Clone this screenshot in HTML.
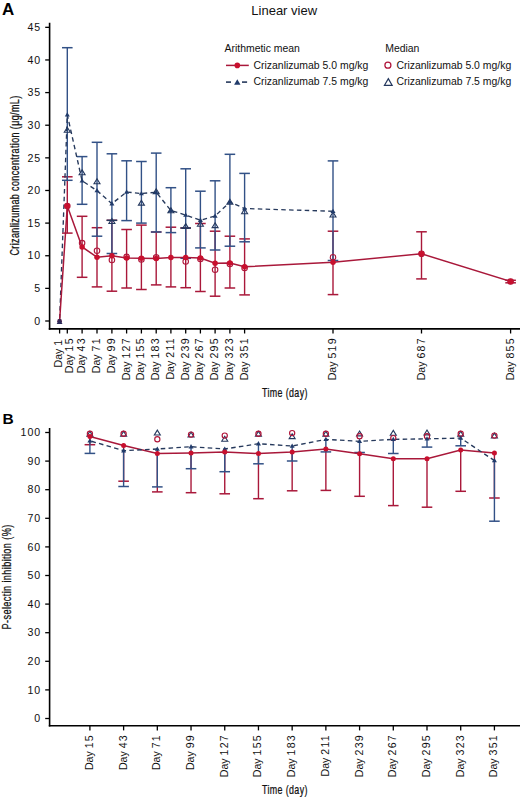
<!DOCTYPE html><html><head><meta charset="utf-8"><title>Crizanlizumab PK/PD</title><style>
html,body{margin:0;padding:0;background:#fff;width:520px;height:798px;overflow:hidden}
svg{display:block}
text{font-family:"Liberation Sans",sans-serif;fill:#111}
.tk{font-size:10.6px;letter-spacing:0.9px}
.xl{font-size:10.6px;letter-spacing:0px}
.xd{letter-spacing:1.25px}
.lg{font-size:10.45px}
.pl{font-size:16px;font-weight:bold;fill:#000}
.tt{font-size:13px}
.at{font-size:12px;stroke:#111;stroke-width:0.25px;letter-spacing:0.5px}
</style></head><body>
<svg width="520" height="798" viewBox="0 0 520 798">
<rect width="520" height="798" fill="#fff"/>
<text transform="translate(1.9,14.8) scale(1.06,1)" class="pl" style="font-size:16px">A</text>
<text x="251.3" y="15.4" class="tt">Linear view</text>
<text transform="translate(18.8,255.6) rotate(-90) scale(0.75,1)" class="at">Crizanlizumab concentration (μg/mL)</text>
<text transform="translate(262,396.5) scale(0.74,1)" class="at">Time (day)</text>
<line x1="49.6" y1="22.8" x2="49.6" y2="329.65" stroke="#000" stroke-width="1.6"/>
<line x1="48.8" y1="328.9" x2="520" y2="328.9" stroke="#000" stroke-width="1.6"/>
<line x1="45.2" y1="321" x2="49.6" y2="321" stroke="#000" stroke-width="1.3"/>
<text x="41" y="324.7" text-anchor="end" class="tk">0</text>
<line x1="45.2" y1="288.37" x2="49.6" y2="288.37" stroke="#000" stroke-width="1.3"/>
<text x="41" y="292.07" text-anchor="end" class="tk">5</text>
<line x1="45.2" y1="255.74" x2="49.6" y2="255.74" stroke="#000" stroke-width="1.3"/>
<text x="41" y="259.44" text-anchor="end" class="tk">10</text>
<line x1="45.2" y1="223.11" x2="49.6" y2="223.11" stroke="#000" stroke-width="1.3"/>
<text x="41" y="226.81" text-anchor="end" class="tk">15</text>
<line x1="45.2" y1="190.48" x2="49.6" y2="190.48" stroke="#000" stroke-width="1.3"/>
<text x="41" y="194.18" text-anchor="end" class="tk">20</text>
<line x1="45.2" y1="157.85" x2="49.6" y2="157.85" stroke="#000" stroke-width="1.3"/>
<text x="41" y="161.55" text-anchor="end" class="tk">25</text>
<line x1="45.2" y1="125.22" x2="49.6" y2="125.22" stroke="#000" stroke-width="1.3"/>
<text x="41" y="128.92" text-anchor="end" class="tk">30</text>
<line x1="45.2" y1="92.59" x2="49.6" y2="92.59" stroke="#000" stroke-width="1.3"/>
<text x="41" y="96.29" text-anchor="end" class="tk">35</text>
<line x1="45.2" y1="59.96" x2="49.6" y2="59.96" stroke="#000" stroke-width="1.3"/>
<text x="41" y="63.66" text-anchor="end" class="tk">40</text>
<line x1="45.2" y1="27.33" x2="49.6" y2="27.33" stroke="#000" stroke-width="1.3"/>
<text x="41" y="31.03" text-anchor="end" class="tk">45</text>
<line x1="59.6" y1="328.9" x2="59.6" y2="333.5" stroke="#000" stroke-width="1.3"/>
<text transform="translate(61.5,338.5) rotate(-90)" text-anchor="end" class="xl">Day <tspan class="xd">1</tspan></text>
<line x1="67.3" y1="328.9" x2="67.3" y2="333.5" stroke="#000" stroke-width="1.3"/>
<text transform="translate(72.9,337.1) rotate(-90)" text-anchor="end" class="xl">Day <tspan class="xd">15</tspan></text>
<line x1="82.1" y1="328.9" x2="82.1" y2="333.5" stroke="#000" stroke-width="1.3"/>
<text transform="translate(85.1,337.1) rotate(-90)" text-anchor="end" class="xl">Day <tspan class="xd">43</tspan></text>
<line x1="97" y1="328.9" x2="97" y2="333.5" stroke="#000" stroke-width="1.3"/>
<text transform="translate(100,337.1) rotate(-90)" text-anchor="end" class="xl">Day <tspan class="xd">71</tspan></text>
<line x1="111.9" y1="328.9" x2="111.9" y2="333.5" stroke="#000" stroke-width="1.3"/>
<text transform="translate(114.9,337.1) rotate(-90)" text-anchor="end" class="xl">Day <tspan class="xd">99</tspan></text>
<line x1="126.6" y1="328.9" x2="126.6" y2="333.5" stroke="#000" stroke-width="1.3"/>
<text transform="translate(129.6,337.1) rotate(-90)" text-anchor="end" class="xl">Day <tspan class="xd">127</tspan></text>
<line x1="141.4" y1="328.9" x2="141.4" y2="333.5" stroke="#000" stroke-width="1.3"/>
<text transform="translate(144.4,337.1) rotate(-90)" text-anchor="end" class="xl">Day <tspan class="xd">155</tspan></text>
<line x1="156.2" y1="328.9" x2="156.2" y2="333.5" stroke="#000" stroke-width="1.3"/>
<text transform="translate(159.2,337.1) rotate(-90)" text-anchor="end" class="xl">Day <tspan class="xd">183</tspan></text>
<line x1="170.9" y1="328.9" x2="170.9" y2="333.5" stroke="#000" stroke-width="1.3"/>
<text transform="translate(173.9,337.1) rotate(-90)" text-anchor="end" class="xl">Day <tspan class="xd">211</tspan></text>
<line x1="185.7" y1="328.9" x2="185.7" y2="333.5" stroke="#000" stroke-width="1.3"/>
<text transform="translate(188.7,337.1) rotate(-90)" text-anchor="end" class="xl">Day <tspan class="xd">239</tspan></text>
<line x1="200.4" y1="328.9" x2="200.4" y2="333.5" stroke="#000" stroke-width="1.3"/>
<text transform="translate(203.4,337.1) rotate(-90)" text-anchor="end" class="xl">Day <tspan class="xd">267</tspan></text>
<line x1="215.1" y1="328.9" x2="215.1" y2="333.5" stroke="#000" stroke-width="1.3"/>
<text transform="translate(218.1,337.1) rotate(-90)" text-anchor="end" class="xl">Day <tspan class="xd">295</tspan></text>
<line x1="229.9" y1="328.9" x2="229.9" y2="333.5" stroke="#000" stroke-width="1.3"/>
<text transform="translate(232.9,337.1) rotate(-90)" text-anchor="end" class="xl">Day <tspan class="xd">323</tspan></text>
<line x1="244.6" y1="328.9" x2="244.6" y2="333.5" stroke="#000" stroke-width="1.3"/>
<text transform="translate(247.6,337.1) rotate(-90)" text-anchor="end" class="xl">Day <tspan class="xd">351</tspan></text>
<line x1="333" y1="328.9" x2="333" y2="333.5" stroke="#000" stroke-width="1.3"/>
<text transform="translate(336,337.1) rotate(-90)" text-anchor="end" class="xl">Day <tspan class="xd">519</tspan></text>
<line x1="421.5" y1="328.9" x2="421.5" y2="333.5" stroke="#000" stroke-width="1.3"/>
<text transform="translate(424.5,337.1) rotate(-90)" text-anchor="end" class="xl">Day <tspan class="xd">687</tspan></text>
<line x1="510.6" y1="328.9" x2="510.6" y2="333.5" stroke="#000" stroke-width="1.3"/>
<text transform="translate(513.6,337.1) rotate(-90)" text-anchor="end" class="xl">Day <tspan class="xd">855</tspan></text>
<text x="224.5" y="52.2" class="lg">Arithmetic mean</text>
<text x="385.2" y="52.2" class="lg">Median</text>
<line x1="226" y1="65.4" x2="248.8" y2="65.4" stroke="#a9183a" stroke-width="1.5"/>
<circle cx="237.3" cy="65.4" r="2.8" fill="#c8102e"/>
<text x="253.5" y="68.8" class="lg">Crizanlizumab 5.0 mg/kg</text>
<line x1="226" y1="82.1" x2="231" y2="82.1" stroke="#26395c" stroke-width="1.6"/>
<line x1="242" y1="82.1" x2="247.1" y2="82.1" stroke="#26395c" stroke-width="1.6"/>
<path d="M237.3 79.36 L240.5 84.76 L234.1 84.76Z" fill="#213b6b"/>
<text x="253.5" y="85.4" class="lg">Crizanlizumab 7.5 mg/kg</text>
<circle cx="387.9" cy="65.2" r="3.0" fill="none" stroke="#b0153a" stroke-width="1.25"/>
<text x="396.4" y="68.6" class="lg">Crizanlizumab 5.0 mg/kg</text>
<path d="M388.3 78.67 L392.1 85.27 L384.5 85.27Z" fill="none" stroke="#24385e" stroke-width="1.25"/>
<text x="396.4" y="85.4" class="lg">Crizanlizumab 7.5 mg/kg</text>
<line x1="67.3" y1="176.8" x2="67.3" y2="233.1" stroke="#a9183a" stroke-width="1.4"/>
<line x1="62" y1="176.8" x2="72.6" y2="176.8" stroke="#a9183a" stroke-width="1.5"/>
<line x1="62" y1="233.1" x2="72.6" y2="233.1" stroke="#a9183a" stroke-width="1.5"/>
<line x1="82.1" y1="216.3" x2="82.1" y2="277.3" stroke="#a9183a" stroke-width="1.4"/>
<line x1="76.8" y1="216.3" x2="87.4" y2="216.3" stroke="#a9183a" stroke-width="1.5"/>
<line x1="76.8" y1="277.3" x2="87.4" y2="277.3" stroke="#a9183a" stroke-width="1.5"/>
<line x1="97" y1="227.7" x2="97" y2="286.9" stroke="#a9183a" stroke-width="1.4"/>
<line x1="91.7" y1="227.7" x2="102.3" y2="227.7" stroke="#a9183a" stroke-width="1.5"/>
<line x1="91.7" y1="286.9" x2="102.3" y2="286.9" stroke="#a9183a" stroke-width="1.5"/>
<line x1="111.9" y1="220.3" x2="111.9" y2="291.2" stroke="#a9183a" stroke-width="1.4"/>
<line x1="106.6" y1="220.3" x2="117.2" y2="220.3" stroke="#a9183a" stroke-width="1.5"/>
<line x1="106.6" y1="291.2" x2="117.2" y2="291.2" stroke="#a9183a" stroke-width="1.5"/>
<line x1="126.6" y1="229.5" x2="126.6" y2="288" stroke="#a9183a" stroke-width="1.4"/>
<line x1="121.3" y1="229.5" x2="131.9" y2="229.5" stroke="#a9183a" stroke-width="1.5"/>
<line x1="121.3" y1="288" x2="131.9" y2="288" stroke="#a9183a" stroke-width="1.5"/>
<line x1="141.4" y1="225.1" x2="141.4" y2="289.5" stroke="#a9183a" stroke-width="1.4"/>
<line x1="136.1" y1="225.1" x2="146.7" y2="225.1" stroke="#a9183a" stroke-width="1.5"/>
<line x1="136.1" y1="289.5" x2="146.7" y2="289.5" stroke="#a9183a" stroke-width="1.5"/>
<line x1="156.2" y1="232" x2="156.2" y2="284.9" stroke="#a9183a" stroke-width="1.4"/>
<line x1="150.9" y1="232" x2="161.5" y2="232" stroke="#a9183a" stroke-width="1.5"/>
<line x1="150.9" y1="284.9" x2="161.5" y2="284.9" stroke="#a9183a" stroke-width="1.5"/>
<line x1="170.9" y1="227.2" x2="170.9" y2="286.9" stroke="#a9183a" stroke-width="1.4"/>
<line x1="165.6" y1="227.2" x2="176.2" y2="227.2" stroke="#a9183a" stroke-width="1.5"/>
<line x1="165.6" y1="286.9" x2="176.2" y2="286.9" stroke="#a9183a" stroke-width="1.5"/>
<line x1="185.7" y1="228" x2="185.7" y2="287.7" stroke="#a9183a" stroke-width="1.4"/>
<line x1="180.4" y1="228" x2="191" y2="228" stroke="#a9183a" stroke-width="1.5"/>
<line x1="180.4" y1="287.7" x2="191" y2="287.7" stroke="#a9183a" stroke-width="1.5"/>
<line x1="200.4" y1="223.5" x2="200.4" y2="291.5" stroke="#a9183a" stroke-width="1.4"/>
<line x1="195.1" y1="223.5" x2="205.7" y2="223.5" stroke="#a9183a" stroke-width="1.5"/>
<line x1="195.1" y1="291.5" x2="205.7" y2="291.5" stroke="#a9183a" stroke-width="1.5"/>
<line x1="215.1" y1="231.2" x2="215.1" y2="296.2" stroke="#a9183a" stroke-width="1.4"/>
<line x1="209.8" y1="231.2" x2="220.4" y2="231.2" stroke="#a9183a" stroke-width="1.5"/>
<line x1="209.8" y1="296.2" x2="220.4" y2="296.2" stroke="#a9183a" stroke-width="1.5"/>
<line x1="229.9" y1="236.2" x2="229.9" y2="288" stroke="#a9183a" stroke-width="1.4"/>
<line x1="224.6" y1="236.2" x2="235.2" y2="236.2" stroke="#a9183a" stroke-width="1.5"/>
<line x1="224.6" y1="288" x2="235.2" y2="288" stroke="#a9183a" stroke-width="1.5"/>
<line x1="244.6" y1="238.9" x2="244.6" y2="294.9" stroke="#a9183a" stroke-width="1.4"/>
<line x1="239.3" y1="238.9" x2="249.9" y2="238.9" stroke="#a9183a" stroke-width="1.5"/>
<line x1="239.3" y1="294.9" x2="249.9" y2="294.9" stroke="#a9183a" stroke-width="1.5"/>
<line x1="333" y1="231.2" x2="333" y2="294.6" stroke="#a9183a" stroke-width="1.4"/>
<line x1="327.7" y1="231.2" x2="338.3" y2="231.2" stroke="#a9183a" stroke-width="1.5"/>
<line x1="327.7" y1="294.6" x2="338.3" y2="294.6" stroke="#a9183a" stroke-width="1.5"/>
<line x1="421.5" y1="231.8" x2="421.5" y2="278.9" stroke="#a9183a" stroke-width="1.4"/>
<line x1="416.2" y1="231.8" x2="426.8" y2="231.8" stroke="#a9183a" stroke-width="1.5"/>
<line x1="416.2" y1="278.9" x2="426.8" y2="278.9" stroke="#a9183a" stroke-width="1.5"/>
<line x1="510.6" y1="280.3" x2="510.6" y2="282.8" stroke="#a9183a" stroke-width="1.4"/>
<line x1="505.3" y1="280.3" x2="515.9" y2="280.3" stroke="#a9183a" stroke-width="1.5"/>
<line x1="505.3" y1="282.8" x2="515.9" y2="282.8" stroke="#a9183a" stroke-width="1.5"/>
<line x1="67.3" y1="47.7" x2="67.3" y2="180.3" stroke="#325186" stroke-width="1.4"/>
<line x1="62" y1="47.7" x2="72.6" y2="47.7" stroke="#325186" stroke-width="1.5"/>
<line x1="62" y1="180.3" x2="72.6" y2="180.3" stroke="#325186" stroke-width="1.5"/>
<line x1="82.1" y1="156.6" x2="82.1" y2="204.3" stroke="#325186" stroke-width="1.4"/>
<line x1="76.8" y1="156.6" x2="87.4" y2="156.6" stroke="#325186" stroke-width="1.5"/>
<line x1="76.8" y1="204.3" x2="87.4" y2="204.3" stroke="#325186" stroke-width="1.5"/>
<line x1="97" y1="142.3" x2="97" y2="236.2" stroke="#325186" stroke-width="1.4"/>
<line x1="91.7" y1="142.3" x2="102.3" y2="142.3" stroke="#325186" stroke-width="1.5"/>
<line x1="91.7" y1="236.2" x2="102.3" y2="236.2" stroke="#325186" stroke-width="1.5"/>
<line x1="111.9" y1="153.8" x2="111.9" y2="253.5" stroke="#325186" stroke-width="1.4"/>
<line x1="106.6" y1="153.8" x2="117.2" y2="153.8" stroke="#325186" stroke-width="1.5"/>
<line x1="106.6" y1="253.5" x2="117.2" y2="253.5" stroke="#325186" stroke-width="1.5"/>
<line x1="126.6" y1="160.8" x2="126.6" y2="220.6" stroke="#325186" stroke-width="1.4"/>
<line x1="121.3" y1="160.8" x2="131.9" y2="160.8" stroke="#325186" stroke-width="1.5"/>
<line x1="121.3" y1="220.6" x2="131.9" y2="220.6" stroke="#325186" stroke-width="1.5"/>
<line x1="141.4" y1="161.5" x2="141.4" y2="223.1" stroke="#325186" stroke-width="1.4"/>
<line x1="136.1" y1="161.5" x2="146.7" y2="161.5" stroke="#325186" stroke-width="1.5"/>
<line x1="136.1" y1="223.1" x2="146.7" y2="223.1" stroke="#325186" stroke-width="1.5"/>
<line x1="156.2" y1="153.1" x2="156.2" y2="232" stroke="#325186" stroke-width="1.4"/>
<line x1="150.9" y1="153.1" x2="161.5" y2="153.1" stroke="#325186" stroke-width="1.5"/>
<line x1="150.9" y1="232" x2="161.5" y2="232" stroke="#325186" stroke-width="1.5"/>
<line x1="170.9" y1="187.7" x2="170.9" y2="232.6" stroke="#325186" stroke-width="1.4"/>
<line x1="165.6" y1="187.7" x2="176.2" y2="187.7" stroke="#325186" stroke-width="1.5"/>
<line x1="165.6" y1="232.6" x2="176.2" y2="232.6" stroke="#325186" stroke-width="1.5"/>
<line x1="185.7" y1="168.8" x2="185.7" y2="258.3" stroke="#325186" stroke-width="1.4"/>
<line x1="180.4" y1="168.8" x2="191" y2="168.8" stroke="#325186" stroke-width="1.5"/>
<line x1="180.4" y1="258.3" x2="191" y2="258.3" stroke="#325186" stroke-width="1.5"/>
<line x1="200.4" y1="191.2" x2="200.4" y2="247.9" stroke="#325186" stroke-width="1.4"/>
<line x1="195.1" y1="191.2" x2="205.7" y2="191.2" stroke="#325186" stroke-width="1.5"/>
<line x1="195.1" y1="247.9" x2="205.7" y2="247.9" stroke="#325186" stroke-width="1.5"/>
<line x1="215.1" y1="180.8" x2="215.1" y2="250" stroke="#325186" stroke-width="1.4"/>
<line x1="209.8" y1="180.8" x2="220.4" y2="180.8" stroke="#325186" stroke-width="1.5"/>
<line x1="209.8" y1="250" x2="220.4" y2="250" stroke="#325186" stroke-width="1.5"/>
<line x1="229.9" y1="154.3" x2="229.9" y2="246.2" stroke="#325186" stroke-width="1.4"/>
<line x1="224.6" y1="154.3" x2="235.2" y2="154.3" stroke="#325186" stroke-width="1.5"/>
<line x1="224.6" y1="246.2" x2="235.2" y2="246.2" stroke="#325186" stroke-width="1.5"/>
<line x1="244.6" y1="173.4" x2="244.6" y2="241.8" stroke="#325186" stroke-width="1.4"/>
<line x1="239.3" y1="173.4" x2="249.9" y2="173.4" stroke="#325186" stroke-width="1.5"/>
<line x1="239.3" y1="241.8" x2="249.9" y2="241.8" stroke="#325186" stroke-width="1.5"/>
<line x1="333" y1="160.9" x2="333" y2="260.5" stroke="#325186" stroke-width="1.4"/>
<line x1="327.7" y1="160.9" x2="338.3" y2="160.9" stroke="#325186" stroke-width="1.5"/>
<line x1="327.7" y1="260.5" x2="338.3" y2="260.5" stroke="#325186" stroke-width="1.5"/>
<line x1="106.6" y1="220.3" x2="117.2" y2="220.3" stroke="#24385e" stroke-width="1.5"/>
<line x1="180.4" y1="228" x2="191" y2="228" stroke="#24385e" stroke-width="1.5"/>
<polyline points="59.6,321 67.3,114.8 82.1,180.8 97,190.6 111.9,203.7 126.6,192 141.4,193.5 156.2,192.3 170.9,210.5 185.7,215.1 200.4,220.2 215.1,216 229.9,202 244.6,208.5 333,211.3" fill="none" stroke="#26395c" stroke-width="1.35" stroke-dasharray="4.5,3.32" stroke-dashoffset="-2.55"/>
<polyline points="59.6,321 67.3,206 82.1,246.9 97,257.2 111.9,255.8 126.6,258 141.4,258.3 156.2,258.4 170.9,257.4 185.7,257.6 200.4,258 215.1,263.3 229.9,263 244.6,266.8 333,262.3 421.5,253.8 510.6,281.5" fill="none" stroke="#a9183a" stroke-width="1.5"/>
<path d="M67.3 127.31 L70.3 132.21 L64.3 132.21Z" fill="none" stroke="#24385e" stroke-width="1.1"/>
<path d="M82.1 169.91 L85.1 174.81 L79.1 174.81Z" fill="none" stroke="#24385e" stroke-width="1.1"/>
<path d="M97 178.81 L100 183.71 L94 183.71Z" fill="none" stroke="#24385e" stroke-width="1.1"/>
<path d="M111.9 218.61 L114.9 223.51 L108.9 223.51Z" fill="none" stroke="#24385e" stroke-width="1.1"/>
<path d="M141.4 200.21 L144.4 205.11 L138.4 205.11Z" fill="none" stroke="#24385e" stroke-width="1.1"/>
<path d="M156.2 188.81 L159.2 193.71 L153.2 193.71Z" fill="none" stroke="#24385e" stroke-width="1.1"/>
<path d="M170.9 207.81 L173.9 212.71 L167.9 212.71Z" fill="none" stroke="#24385e" stroke-width="1.1"/>
<path d="M185.7 223.61 L188.7 228.51 L182.7 228.51Z" fill="none" stroke="#24385e" stroke-width="1.1"/>
<path d="M200.4 221.31 L203.4 226.21 L197.4 226.21Z" fill="none" stroke="#24385e" stroke-width="1.1"/>
<path d="M215.1 222.71 L218.1 227.61 L212.1 227.61Z" fill="none" stroke="#24385e" stroke-width="1.1"/>
<path d="M229.9 199.31 L232.9 204.21 L226.9 204.21Z" fill="none" stroke="#24385e" stroke-width="1.1"/>
<path d="M244.6 208.81 L247.6 213.71 L241.6 213.71Z" fill="none" stroke="#24385e" stroke-width="1.1"/>
<path d="M333 212.11 L336 217.01 L330 217.01Z" fill="none" stroke="#24385e" stroke-width="1.1"/>
<circle cx="67.3" cy="206" r="2.75" fill="none" stroke="#b0153a" stroke-width="1.1"/>
<circle cx="82.1" cy="243.1" r="2.75" fill="none" stroke="#b0153a" stroke-width="1.1"/>
<circle cx="97" cy="250.8" r="2.75" fill="none" stroke="#b0153a" stroke-width="1.1"/>
<circle cx="111.9" cy="260" r="2.75" fill="none" stroke="#b0153a" stroke-width="1.1"/>
<circle cx="126.6" cy="256.9" r="2.75" fill="none" stroke="#b0153a" stroke-width="1.1"/>
<circle cx="141.4" cy="259.4" r="2.75" fill="none" stroke="#b0153a" stroke-width="1.1"/>
<circle cx="156.2" cy="257.4" r="2.75" fill="none" stroke="#b0153a" stroke-width="1.1"/>
<circle cx="185.7" cy="261.5" r="2.75" fill="none" stroke="#b0153a" stroke-width="1.1"/>
<circle cx="200.4" cy="259" r="2.75" fill="none" stroke="#b0153a" stroke-width="1.1"/>
<circle cx="215.1" cy="269.8" r="2.75" fill="none" stroke="#b0153a" stroke-width="1.1"/>
<circle cx="229.9" cy="264" r="2.75" fill="none" stroke="#b0153a" stroke-width="1.1"/>
<circle cx="244.6" cy="267.9" r="2.75" fill="none" stroke="#b0153a" stroke-width="1.1"/>
<circle cx="333" cy="257.2" r="2.75" fill="none" stroke="#b0153a" stroke-width="1.1"/>
<circle cx="421.5" cy="253.8" r="2.75" fill="none" stroke="#b0153a" stroke-width="1.1"/>
<circle cx="510.6" cy="281.5" r="2.75" fill="none" stroke="#b0153a" stroke-width="1.1"/>
<path d="M67.3 112.22 L69.8 116.52 L64.8 116.52Z" fill="#213b6b"/>
<path d="M82.1 178.22 L84.6 182.52 L79.6 182.52Z" fill="#213b6b"/>
<path d="M97 188.02 L99.5 192.32 L94.5 192.32Z" fill="#213b6b"/>
<path d="M111.9 201.12 L114.4 205.42 L109.4 205.42Z" fill="#213b6b"/>
<path d="M126.6 189.42 L129.1 193.72 L124.1 193.72Z" fill="#213b6b"/>
<path d="M141.4 190.92 L143.9 195.22 L138.9 195.22Z" fill="#213b6b"/>
<path d="M156.2 189.72 L158.7 194.02 L153.7 194.02Z" fill="#213b6b"/>
<path d="M170.9 207.92 L173.4 212.22 L168.4 212.22Z" fill="#213b6b"/>
<path d="M185.7 212.52 L188.2 216.82 L183.2 216.82Z" fill="#213b6b"/>
<path d="M200.4 217.62 L202.9 221.92 L197.9 221.92Z" fill="#213b6b"/>
<path d="M215.1 213.42 L217.6 217.72 L212.6 217.72Z" fill="#213b6b"/>
<path d="M229.9 199.42 L232.4 203.72 L227.4 203.72Z" fill="#213b6b"/>
<path d="M244.6 205.92 L247.1 210.22 L242.1 210.22Z" fill="#213b6b"/>
<path d="M333 208.72 L335.5 213.02 L330.5 213.02Z" fill="#213b6b"/>
<circle cx="67.3" cy="206" r="2.75" fill="#c8102e"/>
<circle cx="82.1" cy="246.9" r="2.75" fill="#c8102e"/>
<circle cx="97" cy="257.2" r="2.75" fill="#c8102e"/>
<circle cx="111.9" cy="255.8" r="2.75" fill="#c8102e"/>
<circle cx="126.6" cy="258" r="2.75" fill="#c8102e"/>
<circle cx="141.4" cy="258.3" r="2.75" fill="#c8102e"/>
<circle cx="156.2" cy="258.4" r="2.75" fill="#c8102e"/>
<circle cx="170.9" cy="257.4" r="2.75" fill="#c8102e"/>
<circle cx="185.7" cy="257.6" r="2.75" fill="#c8102e"/>
<circle cx="200.4" cy="258" r="2.75" fill="#c8102e"/>
<circle cx="215.1" cy="263.3" r="2.75" fill="#c8102e"/>
<circle cx="229.9" cy="263" r="2.75" fill="#c8102e"/>
<circle cx="244.6" cy="266.8" r="2.75" fill="#c8102e"/>
<circle cx="333" cy="262.3" r="2.75" fill="#c8102e"/>
<circle cx="421.5" cy="253.8" r="2.75" fill="#c8102e"/>
<circle cx="510.6" cy="281.5" r="2.75" fill="#c8102e"/>
<circle cx="59.6" cy="321.2" r="2.4" fill="#4a2550"/>
<path d="M59.6 319 L62.5 324 L56.7 324Z" fill="#2c2c5a"/>
<text transform="translate(2.5,424.3) scale(1.02,1)" class="pl" style="font-size:15.2px">B</text>
<text transform="translate(11.3,629.4) rotate(-90) scale(0.762,1)" class="at">P-selectin inhibition (%)</text>
<text transform="translate(262,793.8) scale(0.74,1)" class="at">Time (day)</text>
<line x1="49.6" y1="428.1" x2="49.6" y2="726.55" stroke="#000" stroke-width="1.6"/>
<line x1="48.8" y1="725.8" x2="520" y2="725.8" stroke="#000" stroke-width="1.6"/>
<line x1="45.2" y1="718.5" x2="49.6" y2="718.5" stroke="#000" stroke-width="1.3"/>
<text x="41" y="722.2" text-anchor="end" class="tk">0</text>
<line x1="45.2" y1="689.9" x2="49.6" y2="689.9" stroke="#000" stroke-width="1.3"/>
<text x="41" y="693.6" text-anchor="end" class="tk">10</text>
<line x1="45.2" y1="661.3" x2="49.6" y2="661.3" stroke="#000" stroke-width="1.3"/>
<text x="41" y="665" text-anchor="end" class="tk">20</text>
<line x1="45.2" y1="632.7" x2="49.6" y2="632.7" stroke="#000" stroke-width="1.3"/>
<text x="41" y="636.4" text-anchor="end" class="tk">30</text>
<line x1="45.2" y1="604.1" x2="49.6" y2="604.1" stroke="#000" stroke-width="1.3"/>
<text x="41" y="607.8" text-anchor="end" class="tk">40</text>
<line x1="45.2" y1="575.5" x2="49.6" y2="575.5" stroke="#000" stroke-width="1.3"/>
<text x="41" y="579.2" text-anchor="end" class="tk">50</text>
<line x1="45.2" y1="546.9" x2="49.6" y2="546.9" stroke="#000" stroke-width="1.3"/>
<text x="41" y="550.6" text-anchor="end" class="tk">60</text>
<line x1="45.2" y1="518.3" x2="49.6" y2="518.3" stroke="#000" stroke-width="1.3"/>
<text x="41" y="522" text-anchor="end" class="tk">70</text>
<line x1="45.2" y1="489.7" x2="49.6" y2="489.7" stroke="#000" stroke-width="1.3"/>
<text x="41" y="493.4" text-anchor="end" class="tk">80</text>
<line x1="45.2" y1="461.1" x2="49.6" y2="461.1" stroke="#000" stroke-width="1.3"/>
<text x="41" y="464.8" text-anchor="end" class="tk">90</text>
<line x1="45.2" y1="432.5" x2="49.6" y2="432.5" stroke="#000" stroke-width="1.3"/>
<text x="41" y="436.2" text-anchor="end" class="tk">100</text>
<line x1="89.9" y1="725.8" x2="89.9" y2="730.4" stroke="#000" stroke-width="1.3"/>
<text transform="translate(92.9,734) rotate(-90)" text-anchor="end" class="xl">Day <tspan class="xd">15</tspan></text>
<line x1="123.61" y1="725.8" x2="123.61" y2="730.4" stroke="#000" stroke-width="1.3"/>
<text transform="translate(126.61,734) rotate(-90)" text-anchor="end" class="xl">Day <tspan class="xd">43</tspan></text>
<line x1="157.32" y1="725.8" x2="157.32" y2="730.4" stroke="#000" stroke-width="1.3"/>
<text transform="translate(160.32,734) rotate(-90)" text-anchor="end" class="xl">Day <tspan class="xd">71</tspan></text>
<line x1="191.03" y1="725.8" x2="191.03" y2="730.4" stroke="#000" stroke-width="1.3"/>
<text transform="translate(194.03,734) rotate(-90)" text-anchor="end" class="xl">Day <tspan class="xd">99</tspan></text>
<line x1="224.74" y1="725.8" x2="224.74" y2="730.4" stroke="#000" stroke-width="1.3"/>
<text transform="translate(227.74,734) rotate(-90)" text-anchor="end" class="xl">Day <tspan class="xd">127</tspan></text>
<line x1="258.45" y1="725.8" x2="258.45" y2="730.4" stroke="#000" stroke-width="1.3"/>
<text transform="translate(261.45,734) rotate(-90)" text-anchor="end" class="xl">Day <tspan class="xd">155</tspan></text>
<line x1="292.16" y1="725.8" x2="292.16" y2="730.4" stroke="#000" stroke-width="1.3"/>
<text transform="translate(295.16,734) rotate(-90)" text-anchor="end" class="xl">Day <tspan class="xd">183</tspan></text>
<line x1="325.87" y1="725.8" x2="325.87" y2="730.4" stroke="#000" stroke-width="1.3"/>
<text transform="translate(328.87,734) rotate(-90)" text-anchor="end" class="xl">Day <tspan class="xd">211</tspan></text>
<line x1="359.58" y1="725.8" x2="359.58" y2="730.4" stroke="#000" stroke-width="1.3"/>
<text transform="translate(362.58,734) rotate(-90)" text-anchor="end" class="xl">Day <tspan class="xd">239</tspan></text>
<line x1="393.29" y1="725.8" x2="393.29" y2="730.4" stroke="#000" stroke-width="1.3"/>
<text transform="translate(396.29,734) rotate(-90)" text-anchor="end" class="xl">Day <tspan class="xd">267</tspan></text>
<line x1="427" y1="725.8" x2="427" y2="730.4" stroke="#000" stroke-width="1.3"/>
<text transform="translate(430,734) rotate(-90)" text-anchor="end" class="xl">Day <tspan class="xd">295</tspan></text>
<line x1="460.71" y1="725.8" x2="460.71" y2="730.4" stroke="#000" stroke-width="1.3"/>
<text transform="translate(463.71,734) rotate(-90)" text-anchor="end" class="xl">Day <tspan class="xd">323</tspan></text>
<line x1="494.42" y1="725.8" x2="494.42" y2="730.4" stroke="#000" stroke-width="1.3"/>
<text transform="translate(497.42,734) rotate(-90)" text-anchor="end" class="xl">Day <tspan class="xd">351</tspan></text>
<line x1="89.9" y1="436.6" x2="89.9" y2="444.7" stroke="#a9183a" stroke-width="1.4"/>
<line x1="84.6" y1="444.7" x2="95.2" y2="444.7" stroke="#a9183a" stroke-width="1.5"/>
<line x1="123.61" y1="445.5" x2="123.61" y2="481.2" stroke="#a9183a" stroke-width="1.4"/>
<line x1="118.31" y1="481.2" x2="128.91" y2="481.2" stroke="#a9183a" stroke-width="1.5"/>
<line x1="157.32" y1="453.5" x2="157.32" y2="491.9" stroke="#a9183a" stroke-width="1.4"/>
<line x1="152.02" y1="491.9" x2="162.62" y2="491.9" stroke="#a9183a" stroke-width="1.5"/>
<line x1="191.03" y1="452.9" x2="191.03" y2="492.7" stroke="#a9183a" stroke-width="1.4"/>
<line x1="185.73" y1="492.7" x2="196.33" y2="492.7" stroke="#a9183a" stroke-width="1.5"/>
<line x1="224.74" y1="451.9" x2="224.74" y2="493.8" stroke="#a9183a" stroke-width="1.4"/>
<line x1="219.44" y1="493.8" x2="230.04" y2="493.8" stroke="#a9183a" stroke-width="1.5"/>
<line x1="258.45" y1="453.5" x2="258.45" y2="498.7" stroke="#a9183a" stroke-width="1.4"/>
<line x1="253.15" y1="498.7" x2="263.75" y2="498.7" stroke="#a9183a" stroke-width="1.5"/>
<line x1="292.16" y1="451.9" x2="292.16" y2="490.8" stroke="#a9183a" stroke-width="1.4"/>
<line x1="286.86" y1="490.8" x2="297.46" y2="490.8" stroke="#a9183a" stroke-width="1.5"/>
<line x1="325.87" y1="449" x2="325.87" y2="490.4" stroke="#a9183a" stroke-width="1.4"/>
<line x1="320.57" y1="490.4" x2="331.17" y2="490.4" stroke="#a9183a" stroke-width="1.5"/>
<line x1="359.58" y1="453.8" x2="359.58" y2="496.3" stroke="#a9183a" stroke-width="1.4"/>
<line x1="354.28" y1="496.3" x2="364.88" y2="496.3" stroke="#a9183a" stroke-width="1.5"/>
<line x1="393.29" y1="458.7" x2="393.29" y2="505.6" stroke="#a9183a" stroke-width="1.4"/>
<line x1="387.99" y1="505.6" x2="398.59" y2="505.6" stroke="#a9183a" stroke-width="1.5"/>
<line x1="427" y1="458.7" x2="427" y2="507.2" stroke="#a9183a" stroke-width="1.4"/>
<line x1="421.7" y1="507.2" x2="432.3" y2="507.2" stroke="#a9183a" stroke-width="1.5"/>
<line x1="460.71" y1="450" x2="460.71" y2="491.3" stroke="#a9183a" stroke-width="1.4"/>
<line x1="455.41" y1="491.3" x2="466.01" y2="491.3" stroke="#a9183a" stroke-width="1.5"/>
<line x1="494.42" y1="452.9" x2="494.42" y2="498" stroke="#a9183a" stroke-width="1.4"/>
<line x1="489.12" y1="498" x2="499.72" y2="498" stroke="#a9183a" stroke-width="1.5"/>
<line x1="89.9" y1="440.8" x2="89.9" y2="453.4" stroke="#325186" stroke-width="1.4"/>
<line x1="84.6" y1="453.4" x2="95.2" y2="453.4" stroke="#325186" stroke-width="1.5"/>
<line x1="123.61" y1="450.7" x2="123.61" y2="486.5" stroke="#325186" stroke-width="1.4"/>
<line x1="118.31" y1="486.5" x2="128.91" y2="486.5" stroke="#325186" stroke-width="1.5"/>
<line x1="157.32" y1="449" x2="157.32" y2="486.9" stroke="#325186" stroke-width="1.4"/>
<line x1="152.02" y1="486.9" x2="162.62" y2="486.9" stroke="#325186" stroke-width="1.5"/>
<line x1="191.03" y1="446.7" x2="191.03" y2="468.7" stroke="#325186" stroke-width="1.4"/>
<line x1="185.73" y1="468.7" x2="196.33" y2="468.7" stroke="#325186" stroke-width="1.5"/>
<line x1="224.74" y1="449" x2="224.74" y2="471.7" stroke="#325186" stroke-width="1.4"/>
<line x1="219.44" y1="471.7" x2="230.04" y2="471.7" stroke="#325186" stroke-width="1.5"/>
<line x1="258.45" y1="443.7" x2="258.45" y2="463.8" stroke="#325186" stroke-width="1.4"/>
<line x1="253.15" y1="463.8" x2="263.75" y2="463.8" stroke="#325186" stroke-width="1.5"/>
<line x1="292.16" y1="446" x2="292.16" y2="461" stroke="#325186" stroke-width="1.4"/>
<line x1="286.86" y1="461" x2="297.46" y2="461" stroke="#325186" stroke-width="1.5"/>
<line x1="325.87" y1="439.4" x2="325.87" y2="451.9" stroke="#325186" stroke-width="1.4"/>
<line x1="320.57" y1="451.9" x2="331.17" y2="451.9" stroke="#325186" stroke-width="1.5"/>
<line x1="359.58" y1="441.3" x2="359.58" y2="452.5" stroke="#325186" stroke-width="1.4"/>
<line x1="354.28" y1="452.5" x2="364.88" y2="452.5" stroke="#325186" stroke-width="1.5"/>
<line x1="393.29" y1="439.4" x2="393.29" y2="453.5" stroke="#325186" stroke-width="1.4"/>
<line x1="387.99" y1="453.5" x2="398.59" y2="453.5" stroke="#325186" stroke-width="1.5"/>
<line x1="427" y1="438.8" x2="427" y2="447.1" stroke="#325186" stroke-width="1.4"/>
<line x1="421.7" y1="447.1" x2="432.3" y2="447.1" stroke="#325186" stroke-width="1.5"/>
<line x1="460.71" y1="438.1" x2="460.71" y2="445.8" stroke="#325186" stroke-width="1.4"/>
<line x1="455.41" y1="445.8" x2="466.01" y2="445.8" stroke="#325186" stroke-width="1.5"/>
<line x1="494.42" y1="460.6" x2="494.42" y2="521.2" stroke="#325186" stroke-width="1.4"/>
<line x1="489.12" y1="521.2" x2="499.72" y2="521.2" stroke="#325186" stroke-width="1.5"/>
<polyline points="89.9,436.6 123.61,445.5 157.32,453.5 191.03,452.9 224.74,451.9 258.45,453.5 292.16,451.9 325.87,449 359.58,453.8 393.29,458.7 427,458.7 460.71,450 494.42,452.9" fill="none" stroke="#a9183a" stroke-width="1.5"/>
<polyline points="89.9,440.8 123.61,450.7 157.32,449 191.03,446.7 224.74,449 258.45,443.7 292.16,446 325.87,439.4 359.58,441.3 393.29,439.4 427,438.8 460.71,438.1 494.42,460.6" fill="none" stroke="#26395c" stroke-width="1.35" stroke-dasharray="4.55,3.3" stroke-dashoffset="-1.65"/>
<path d="M89.9 431.2 L92.9 436.1 L86.9 436.1Z" fill="none" stroke="#24385e" stroke-width="1.1"/>
<path d="M123.61 431.2 L126.61 436.1 L120.61 436.1Z" fill="none" stroke="#24385e" stroke-width="1.1"/>
<path d="M157.32 430.11 L160.32 435 L154.32 435Z" fill="none" stroke="#24385e" stroke-width="1.1"/>
<path d="M191.03 432.11 L194.03 437 L188.03 437Z" fill="none" stroke="#24385e" stroke-width="1.1"/>
<path d="M224.74 436.31 L227.74 441.2 L221.74 441.2Z" fill="none" stroke="#24385e" stroke-width="1.1"/>
<path d="M258.45 431.2 L261.45 436.1 L255.45 436.1Z" fill="none" stroke="#24385e" stroke-width="1.1"/>
<path d="M292.16 433.7 L295.16 438.6 L289.16 438.6Z" fill="none" stroke="#24385e" stroke-width="1.1"/>
<path d="M325.87 431.2 L328.87 436.1 L322.87 436.1Z" fill="none" stroke="#24385e" stroke-width="1.1"/>
<path d="M359.58 431 L362.58 435.9 L356.58 435.9Z" fill="none" stroke="#24385e" stroke-width="1.1"/>
<path d="M393.29 430.41 L396.29 435.31 L390.29 435.31Z" fill="none" stroke="#24385e" stroke-width="1.1"/>
<path d="M427 430 L430 434.9 L424 434.9Z" fill="none" stroke="#24385e" stroke-width="1.1"/>
<path d="M460.71 431.2 L463.71 436.1 L457.71 436.1Z" fill="none" stroke="#24385e" stroke-width="1.1"/>
<path d="M494.42 433.11 L497.42 438 L491.42 438Z" fill="none" stroke="#24385e" stroke-width="1.1"/>
<circle cx="89.9" cy="433.7" r="2.6" fill="none" stroke="#b0153a" stroke-width="1.15"/>
<circle cx="123.61" cy="433.7" r="2.6" fill="none" stroke="#b0153a" stroke-width="1.15"/>
<circle cx="157.32" cy="439.2" r="2.6" fill="none" stroke="#b0153a" stroke-width="1.15"/>
<circle cx="191.03" cy="434.6" r="2.6" fill="none" stroke="#b0153a" stroke-width="1.15"/>
<circle cx="224.74" cy="435.6" r="2.6" fill="none" stroke="#b0153a" stroke-width="1.15"/>
<circle cx="258.45" cy="433.7" r="2.6" fill="none" stroke="#b0153a" stroke-width="1.15"/>
<circle cx="292.16" cy="433.1" r="2.6" fill="none" stroke="#b0153a" stroke-width="1.15"/>
<circle cx="325.87" cy="433.7" r="2.6" fill="none" stroke="#b0153a" stroke-width="1.15"/>
<circle cx="359.58" cy="436.2" r="2.6" fill="none" stroke="#b0153a" stroke-width="1.15"/>
<circle cx="393.29" cy="438.1" r="2.6" fill="none" stroke="#b0153a" stroke-width="1.15"/>
<circle cx="427" cy="436.2" r="2.6" fill="none" stroke="#b0153a" stroke-width="1.15"/>
<circle cx="460.71" cy="433.7" r="2.6" fill="none" stroke="#b0153a" stroke-width="1.15"/>
<circle cx="494.42" cy="435.6" r="2.6" fill="none" stroke="#b0153a" stroke-width="1.15"/>
<path d="M89.9 438.22 L92.4 442.52 L87.4 442.52Z" fill="#213b6b"/>
<path d="M123.61 448.12 L126.11 452.42 L121.11 452.42Z" fill="#213b6b"/>
<path d="M157.32 446.42 L159.82 450.72 L154.82 450.72Z" fill="#213b6b"/>
<path d="M191.03 444.12 L193.53 448.42 L188.53 448.42Z" fill="#213b6b"/>
<path d="M224.74 446.42 L227.24 450.72 L222.24 450.72Z" fill="#213b6b"/>
<path d="M258.45 441.12 L260.95 445.42 L255.95 445.42Z" fill="#213b6b"/>
<path d="M292.16 443.42 L294.66 447.72 L289.66 447.72Z" fill="#213b6b"/>
<path d="M325.87 436.82 L328.37 441.12 L323.37 441.12Z" fill="#213b6b"/>
<path d="M359.58 438.72 L362.08 443.02 L357.08 443.02Z" fill="#213b6b"/>
<path d="M393.29 436.82 L395.79 441.12 L390.79 441.12Z" fill="#213b6b"/>
<path d="M427 436.22 L429.5 440.52 L424.5 440.52Z" fill="#213b6b"/>
<path d="M460.71 435.52 L463.21 439.82 L458.21 439.82Z" fill="#213b6b"/>
<path d="M494.42 458.02 L496.92 462.32 L491.92 462.32Z" fill="#213b6b"/>
<circle cx="89.9" cy="436.6" r="2.5" fill="#c8102e"/>
<circle cx="123.61" cy="445.5" r="2.5" fill="#c8102e"/>
<circle cx="157.32" cy="453.5" r="2.5" fill="#c8102e"/>
<circle cx="191.03" cy="452.9" r="2.5" fill="#c8102e"/>
<circle cx="224.74" cy="451.9" r="2.5" fill="#c8102e"/>
<circle cx="258.45" cy="453.5" r="2.5" fill="#c8102e"/>
<circle cx="292.16" cy="451.9" r="2.5" fill="#c8102e"/>
<circle cx="325.87" cy="449" r="2.5" fill="#c8102e"/>
<circle cx="359.58" cy="453.8" r="2.5" fill="#c8102e"/>
<circle cx="393.29" cy="458.7" r="2.5" fill="#c8102e"/>
<circle cx="427" cy="458.7" r="2.5" fill="#c8102e"/>
<circle cx="460.71" cy="450" r="2.5" fill="#c8102e"/>
<circle cx="494.42" cy="452.9" r="2.5" fill="#c8102e"/>
</svg></body></html>
